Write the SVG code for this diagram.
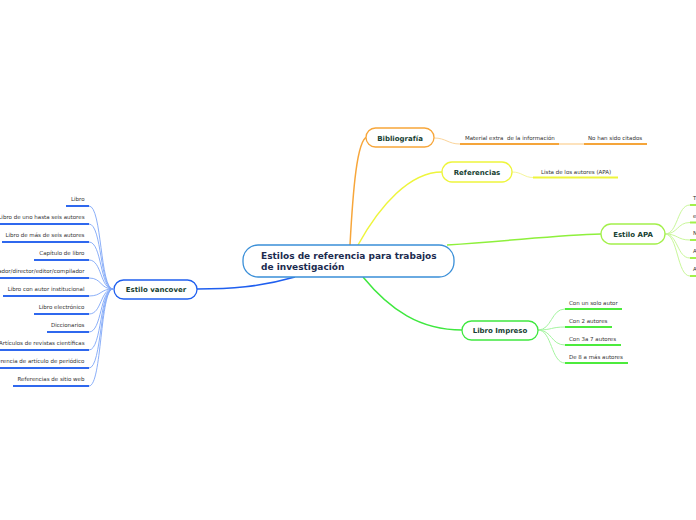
<svg xmlns="http://www.w3.org/2000/svg" width="696" height="520" viewBox="0 0 696 520">
<style>
.node{fill:#ffffff;stroke-width:1.3}
.lbl{font-family:"DejaVu Sans",Verdana,sans-serif;font-weight:bold;font-size:7px;fill:#173f33;text-anchor:middle}
.main{font-family:"DejaVu Sans",Verdana,sans-serif;font-weight:bold;font-size:9px;fill:#1b2b4f}
.leaf{font-family:"DejaVu Sans",Verdana,sans-serif;font-size:5.5px;fill:#333333;white-space:pre}
.end{text-anchor:end}
.c{fill:none}
.blueF{stroke:#7ea6f7;stroke-width:0.9}
.blueU{stroke:#2f68ee;stroke-width:2}
.orgF{stroke:#fbd49a;stroke-width:1}
.orgU{stroke:#f5a53a;stroke-width:2}
.yelF{stroke:#f5f59a;stroke-width:1}
.yelU{stroke:#eef53c;stroke-width:2}
.limF{stroke:#c9f79a;stroke-width:1}
.limU{stroke:#a3f04b;stroke-width:2}
.grnF{stroke:#a5f5a0;stroke-width:1}
.grnU{stroke:#4ceb3c;stroke-width:2}
</style>
<rect width="696" height="520" fill="#ffffff"/>
<g id="connectors">
  <path class="c" d="M295,277 C260,287 230,289 197,289" stroke="#1f5fef" stroke-width="1.5"/>
  <path class="c" d="M350,245 C353,190 357,140 367,137" stroke="#f7a63a" stroke-width="1.5"/>
  <path class="c" d="M358,245 C380,205 410,172 442,172" stroke="#eef53c" stroke-width="1.5"/>
  <path class="c" d="M447,245 C520,240 560,235 601,234" stroke="#8ef03c" stroke-width="1.5"/>
  <path class="c" d="M363,277 C390,310 420,330 462,330" stroke="#3fe83f" stroke-width="1.5"/>
  <g class="c blueF">
    <path d="M113,289 C100,289 102,206 89,206"/>
    <path d="M113,289 C100,289 102,224 89,224"/>
    <path d="M113,289 C100,289 102,242 89,242"/>
    <path d="M113,289 C100,289 102,260 89,260"/>
    <path d="M113,289 C100,289 102,278 89,278"/>
    <path d="M113,289 C100,289 102,296 89,296"/>
    <path d="M113,289 C100,289 102,314 89,314"/>
    <path d="M113,289 C100,289 102,332 89,332"/>
    <path d="M113,289 C100,289 102,350 89,350"/>
    <path d="M113,289 C100,289 102,368 89,368"/>
    <path d="M113,289 C100,289 102,386 89,386"/>
  </g>
  <g class="c blueU">
    <path d="M66,206 H89"/>
    <path d="M0,224 H89"/>
    <path d="M2,242 H89"/>
    <path d="M34,260 H89"/>
    <path d="M0,278 H89"/>
    <path d="M3,296 H89"/>
    <path d="M34,314 H89"/>
    <path d="M47,332 H89"/>
    <path d="M0,350 H89"/>
    <path d="M0,368 H89"/>
    <path d="M13,386 H89"/>
  </g>
  <path class="c orgF" d="M434,138 C446,138 448,144 460,144"/>
  <path class="c orgU" d="M460,144 H559"/>
  <path class="c" d="M559,144 H584" stroke="#fde2bc" stroke-width="2"/>
  <path class="c orgU" d="M584,144 H647"/>
  <path class="c yelF" d="M512,172 C522,172 524,177.5 533,177.5"/>
  <path class="c yelU" d="M533,177.5 H618"/>
  <g class="c limF">
    <path d="M665,234 C678,234 677,205 690,205"/>
    <path d="M665,234 C678,234 677,222.5 690,222.5"/>
    <path d="M665,234 C678,234 677,240 690,240"/>
    <path d="M665,234 C678,234 677,258 690,258"/>
    <path d="M665,234 C678,234 677,276 690,276"/>
  </g>
  <g class="c limU">
    <path d="M690,205 H696"/>
    <path d="M690,222.5 H696"/>
    <path d="M690,240 H696"/>
    <path d="M690,258 H696"/>
    <path d="M690,276 H696"/>
  </g>
  <g class="c grnF">
    <path d="M538,330 C552,330 551,309 565,309"/>
    <path d="M538,330 C552,330 551,327 565,327"/>
    <path d="M538,330 C552,330 551,345 565,345"/>
    <path d="M538,330 C552,330 551,363 565,363"/>
  </g>
  <g class="c grnU">
    <path d="M565,309 H622"/>
    <path d="M565,327 H612"/>
    <path d="M565,345 H621"/>
    <path d="M565,363 H628"/>
  </g>
</g>
<g id="central">
  <rect class="node" x="243" y="245" width="211" height="32" rx="15" stroke="#3a8fd8"/>
  <text class="main" x="261" y="259">Estilos de referencia para trabajos</text>
  <text class="main" x="261" y="270">de investigación</text>
</g>
<g id="vancover">
  <rect class="node" x="114" y="280" width="83" height="19" rx="9.5" stroke="#1f5fef"/>
  <text class="lbl" x="156" y="292">Estilo vancover</text>
</g>
<g id="bibliografia">
  <rect class="node" x="366" y="128" width="68" height="19" rx="9.5" stroke="#f7a63a"/>
  <text class="lbl" x="400" y="140.5">Bibliografía</text>
</g>
<g id="referencias">
  <rect class="node" x="442" y="162" width="70" height="20" rx="10" stroke="#eef53c"/>
  <text class="lbl" x="477" y="175">Referencias</text>
</g>
<g id="apa">
  <rect class="node" x="601" y="224" width="64" height="20" rx="10" stroke="#a3f04b"/>
  <text class="lbl" x="633" y="236.5">Estilo APA</text>
</g>
<g id="impreso">
  <rect class="node" x="462" y="321" width="76" height="19" rx="9.5" stroke="#3fe83f"/>
  <text class="lbl" x="500" y="333">Libro Impreso</text>
</g>
<g id="vancover-items">
  <text class="leaf end" x="84.5" y="200.5">Libro</text>
  <text class="leaf end" x="84.5" y="218.5">Libro de uno hasta seis autores</text>
  <text class="leaf end" x="84.5" y="236.5">Libro de más de seis autores</text>
  <text class="leaf end" x="84.5" y="254.5">Capítulo de libro</text>
  <text class="leaf end" x="84.5" y="272.5">Coordinador/director/editor/compilador</text>
  <text class="leaf end" x="84.5" y="290.5">Libro con autor institucional</text>
  <text class="leaf end" x="84.5" y="308.5">Libro electrónico</text>
  <text class="leaf end" x="84.5" y="326.5">Diccionarios</text>
  <text class="leaf end" x="84.5" y="344.5">Artículos de revistas científicas</text>
  <text class="leaf end" x="84.5" y="362.5">Referencia de artículo de periódico</text>
  <text class="leaf end" x="84.5" y="380.5">Referencias de sitio web</text>
</g>
<g id="bibliografia-items">
  <text class="leaf" x="465" y="139.5">Material extra  de la información</text>
  <text class="leaf" x="588" y="139.5">No han sido citados</text>
</g>
<g id="referencias-items">
  <text class="leaf" x="541" y="173.5">Lista de los autores (APA)</text>
</g>
<g id="apa-items">
  <text class="leaf" x="693" y="199.5">T</text>
  <text class="leaf" x="693" y="217.5">e</text>
  <text class="leaf" x="693" y="235">N</text>
  <text class="leaf" x="693" y="253">A</text>
  <text class="leaf" x="693" y="271">A</text>
</g>
<g id="impreso-items">
  <text class="leaf" x="569" y="305">Con un solo autor</text>
  <text class="leaf" x="569" y="323">Con 2 autores</text>
  <text class="leaf" x="569" y="341">Con 3a 7 autores</text>
  <text class="leaf" x="569" y="359">De 8 a más autores</text>
</g>
</svg>
